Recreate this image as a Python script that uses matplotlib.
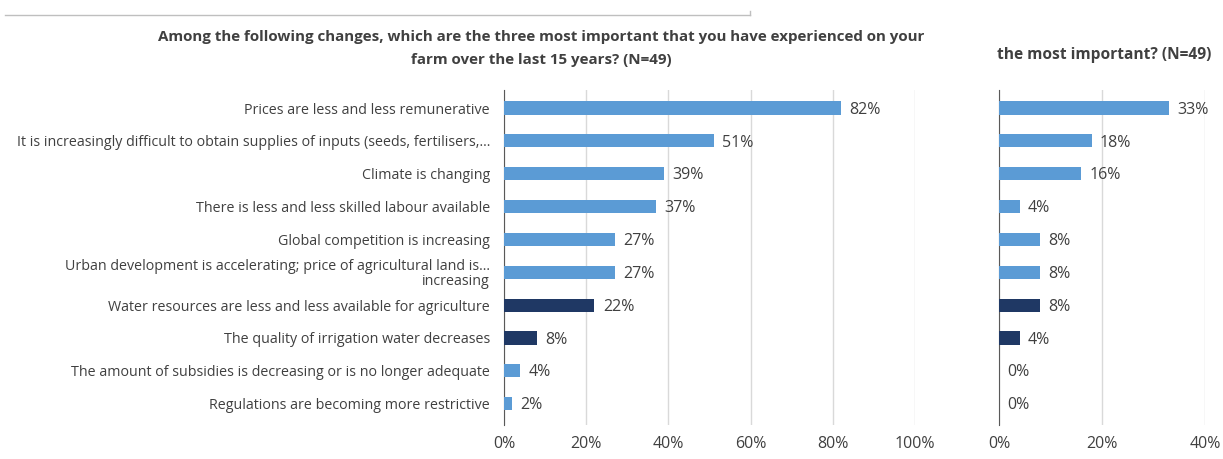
import numpy as np
import matplotlib.pyplot as plt
from matplotlib.lines import Line2D

plt.rcParams['font.family'] = ['Open Sans', 'DejaVu Sans']

changes = [
    'Prices are less and less remunerative',
    'It is increasingly difficult to obtain supplies of inputs (seeds, fertilisers,...',
    'Climate is changing',
    'There is less and less skilled labour available',
    'Global competition is increasing',
    'Urban development is accelerating; price of agricultural land is...\nincreasing',
    'Water resources are less and less available for agriculture',
    'The quality of irrigation water decreases',
    'The amount of subsidies is decreasing or is no longer adequate',
    'Regulations are becoming more restrictive',
]
top_three = [82, 51, 39, 37, 27, 27, 22, 8, 4, 2]
most_important = [33, 18, 16, 4, 8, 8, 8, 4, 0, 0]
water_related = [False, False, False, False, False, False, True, True, False, False]

light_blue = '#5B9BD5'
navy = '#1F3864'
text_grey = '#404040'
colors = [navy if w else light_blue for w in water_related]

fig = plt.figure(figsize=(12.23, 4.59), dpi=100)
ax1 = fig.add_axes([504 / 1223, 1 - 425 / 459, 411 / 1223, (425 - 90) / 459])
ax2 = fig.add_axes([999 / 1223, 1 - 425 / 459, 206 / 1223, (425 - 90) / 459])

y = np.arange(len(changes))


def draw_panel(ax, values, xmax, step):
    ax.barh(y, values, height=0.4, color=colors, zorder=3)
    ax.set_xlim(0, xmax)
    ax.set_ylim(len(changes) - 0.35, -0.55)
    ax.set_xticks(np.arange(0, xmax + 1, step))
    ax.set_xticklabels([f'{v}%' for v in range(0, xmax + 1, step)])
    ax.grid(axis='x', color='#D9D9D9', linewidth=1, zorder=0)
    for side in ['top', 'right', 'bottom']:
        ax.spines[side].set_visible(False)
    ax.spines['left'].set_color('#595959')
    ax.tick_params(axis='both', length=0, labelsize=11.5, colors=text_grey, pad=8)
    # value labels sit a fixed distance past the end of each bar
    for yi, v in zip(y, values):
        ax.annotate(f'{v}%', (v, yi + 0.05), xytext=(6, 0), textcoords='offset points',
                    va='center', ha='left', fontsize=11.5, color=text_grey)


draw_panel(ax1, top_three, 100, 20)
ax1.set_yticks(y)
ax1.set_yticklabels(changes, fontsize=10.3, color=text_grey, linespacing=0.95)
ax1.tick_params(axis='y', pad=10)

draw_panel(ax2, most_important, 40, 20)
ax2.set_yticks([])

fig.text(541 / 1223, 1 - 37 / 459,
         'Among the following changes, which are the three most important that you have experienced on your',
         ha='center', va='center', fontsize=10.9, fontweight='bold', color=text_grey)
fig.text(541 / 1223, 1 - 60 / 459, 'farm over the last 15 years? (N=49)',
         ha='center', va='center', fontsize=10.9, fontweight='bold', color=text_grey)
fig.text(997 / 1223, 1 - 55 / 459, 'the most important? (N=49)',
         ha='left', va='center', fontsize=11.2, fontweight='bold', color=text_grey)

# thin separator rule across the top, with a small end tick
fig.add_artist(Line2D([5 / 1223, 750 / 1223], [1 - 15 / 459, 1 - 15 / 459],
                      color='#BFBFBF', linewidth=1))
fig.add_artist(Line2D([750 / 1223, 750 / 1223], [1 - 11 / 459, 1 - 15 / 459],
                      color='#BFBFBF', linewidth=1))

fig.savefig('out.png', dpi=100)
